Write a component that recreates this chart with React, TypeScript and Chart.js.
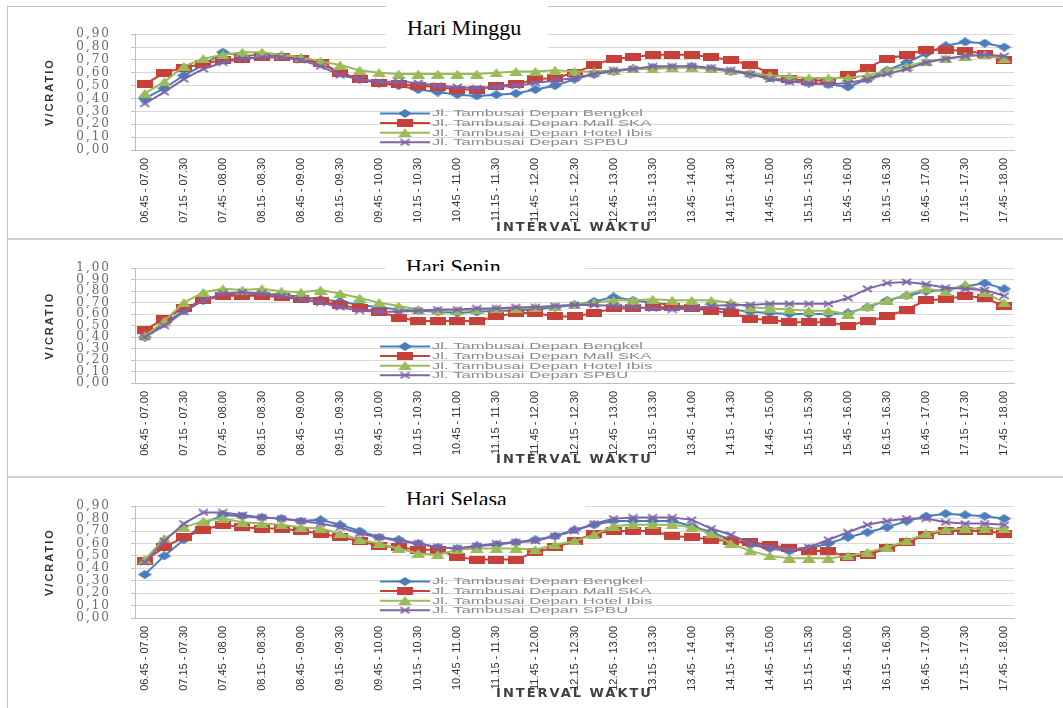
import { useEffect, useRef } from 'react';
import { Chart, registerables } from 'chart.js';

Chart.register(...registerables);

const categories = [
  '06.45 - 07.00', '07.00 - 07.15', '07.15 - 07.30', '07.30 - 07.45', '07.45 - 08.00',
  '08.00 - 08.15', '08.15 - 08.30', '08.30 - 08.45', '08.45 - 09.00', '09.00 - 09.15',
  '09.15 - 09.30', '09.30 - 09.45', '09.45 - 10.00', '10.00 - 10.15', '10.15 - 10.30',
  '10.30 - 10.45', '10.45 - 11.00', '11.00 - 11.15', '11.15 - 11.30', '11.30 - 11.45',
  '11.45 - 12.00', '12.00 - 12.15', '12.15 - 12.30', '12.30 - 12.45', '12.45 - 13.00',
  '13.00 - 13.15', '13.15 - 13.30', '13.30 - 13.45', '13.45 - 14.00', '14.00 - 14.15',
  '14.15 - 14.30', '14.30 - 14.45', '14.45 - 15.00', '15.00 - 15.15', '15.15 - 15.30',
  '15.30 - 15.45', '15.45 - 16.00', '16.00 - 16.15', '16.15 - 16.30', '16.30 - 16.45',
  '16.45 - 17.00', '17.00 - 17.15', '17.15 - 17.30', '17.30 - 17.45', '17.45 - 18.00',
];

const seriesNames = [
  'Jl. Tambusai Depan Bengkel',
  'Jl. Tambusai Depan Mall SKA',
  'Jl. Tambusai Depan Hotel Ibis',
  'Jl. Tambusai Depan SPBU',
];

// Hari Minggu
const mingguBengkel = [0.40,0.48,0.58,0.66,0.76,0.73,0.74,0.73,0.71,0.67,0.60,0.55,0.52,0.50,0.47,0.45,0.43,0.42,0.43,0.44,0.47,0.50,0.55,0.59,0.61,0.63,0.64,0.64,0.65,0.63,0.61,0.59,0.56,0.54,0.52,0.51,0.49,0.55,0.62,0.68,0.75,0.81,0.84,0.83,0.80];
const mingguMallSka = [0.51,0.60,0.64,0.67,0.70,0.71,0.72,0.72,0.71,0.68,0.60,0.55,0.52,0.51,0.50,0.49,0.47,0.47,0.50,0.51,0.55,0.56,0.60,0.66,0.71,0.72,0.74,0.74,0.74,0.72,0.70,0.66,0.60,0.55,0.54,0.54,0.58,0.64,0.71,0.74,0.78,0.78,0.77,0.75,0.70];
const mingguHotelIbis = [0.44,0.53,0.65,0.71,0.74,0.76,0.76,0.74,0.72,0.69,0.66,0.62,0.60,0.59,0.59,0.59,0.59,0.59,0.60,0.61,0.61,0.62,0.61,0.61,0.62,0.63,0.63,0.64,0.64,0.63,0.62,0.60,0.58,0.57,0.56,0.56,0.56,0.58,0.62,0.65,0.69,0.71,0.73,0.74,0.71];
const mingguSpbu = [0.36,0.45,0.55,0.63,0.68,0.71,0.72,0.72,0.70,0.65,0.58,0.55,0.53,0.53,0.52,0.50,0.49,0.48,0.49,0.50,0.52,0.54,0.56,0.59,0.62,0.63,0.65,0.65,0.65,0.64,0.62,0.59,0.55,0.53,0.52,0.51,0.52,0.55,0.59,0.63,0.68,0.71,0.73,0.74,0.73];

// Hari Senin
const seninBengkel = [0.40,0.52,0.63,0.72,0.77,0.78,0.77,0.77,0.75,0.73,0.71,0.68,0.66,0.64,0.63,0.62,0.61,0.62,0.63,0.63,0.64,0.66,0.68,0.71,0.75,0.72,0.70,0.68,0.66,0.65,0.64,0.62,0.61,0.60,0.60,0.60,0.61,0.66,0.72,0.76,0.80,0.81,0.84,0.87,0.82];
const seninMallSka = [0.46,0.56,0.65,0.72,0.76,0.76,0.76,0.75,0.73,0.71,0.68,0.65,0.62,0.57,0.54,0.54,0.54,0.54,0.58,0.61,0.61,0.58,0.58,0.61,0.65,0.65,0.66,0.66,0.65,0.63,0.61,0.56,0.55,0.53,0.53,0.53,0.50,0.54,0.58,0.64,0.72,0.73,0.76,0.74,0.67];
const seninHotelIbis = [0.41,0.54,0.70,0.79,0.82,0.81,0.82,0.80,0.79,0.81,0.78,0.74,0.70,0.67,0.64,0.63,0.63,0.64,0.65,0.65,0.66,0.67,0.68,0.70,0.72,0.72,0.73,0.72,0.72,0.72,0.70,0.66,0.65,0.64,0.63,0.63,0.60,0.67,0.72,0.77,0.82,0.80,0.86,0.79,0.70];
const seninSpbu = [0.40,0.50,0.62,0.72,0.78,0.79,0.78,0.76,0.73,0.70,0.66,0.63,0.62,0.62,0.63,0.64,0.64,0.65,0.65,0.66,0.66,0.67,0.68,0.68,0.67,0.66,0.65,0.64,0.65,0.67,0.68,0.68,0.69,0.69,0.69,0.69,0.74,0.82,0.87,0.88,0.86,0.83,0.82,0.81,0.76];

// Hari Selasa
const selasaBengkel = [0.35,0.50,0.63,0.76,0.83,0.82,0.81,0.80,0.78,0.79,0.75,0.70,0.65,0.63,0.60,0.57,0.56,0.58,0.59,0.61,0.63,0.66,0.71,0.75,0.78,0.78,0.78,0.78,0.74,0.69,0.63,0.59,0.56,0.54,0.56,0.60,0.65,0.69,0.73,0.78,0.82,0.84,0.83,0.82,0.80];
const selasaMallSka = [0.46,0.57,0.65,0.71,0.75,0.73,0.72,0.72,0.70,0.68,0.65,0.62,0.58,0.57,0.55,0.55,0.49,0.47,0.47,0.47,0.53,0.57,0.62,0.68,0.70,0.70,0.70,0.66,0.65,0.63,0.62,0.61,0.59,0.56,0.54,0.54,0.49,0.51,0.56,0.61,0.67,0.70,0.70,0.70,0.68];
const selasaHotelIbis = [0.47,0.64,0.73,0.78,0.80,0.77,0.76,0.75,0.73,0.72,0.68,0.63,0.60,0.56,0.52,0.51,0.55,0.56,0.56,0.56,0.55,0.59,0.62,0.67,0.74,0.75,0.75,0.75,0.73,0.68,0.60,0.54,0.50,0.48,0.48,0.48,0.50,0.53,0.57,0.62,0.68,0.71,0.72,0.72,0.72];
const selasaSpbu = [0.45,0.62,0.76,0.85,0.85,0.83,0.81,0.80,0.78,0.76,0.73,0.68,0.65,0.62,0.60,0.57,0.56,0.58,0.60,0.61,0.62,0.66,0.70,0.76,0.80,0.81,0.81,0.81,0.79,0.72,0.67,0.60,0.57,0.55,0.57,0.63,0.69,0.75,0.78,0.80,0.80,0.77,0.76,0.76,0.75];

const panelTitles = ['Hari Minggu', 'Hari Senin', 'Hari Selasa'];
const panelYMax = [0.9, 1.0, 0.9];
const panelSeries = [
  [mingguBengkel, mingguMallSka, mingguHotelIbis, mingguSpbu],
  [seninBengkel, seninMallSka, seninHotelIbis, seninSpbu],
  [selasaBengkel, selasaMallSka, selasaHotelIbis, selasaSpbu],
];

const COLORS = ['#4A7EBB', '#C8403A', '#9BBB59', '#7E65A8'];
const MARKERS = ['diamond', 'rect', 'triangle', 'cross'];

// layout of each panel (page pixels)
const LAYOUT = [
  { canvasTop: 7, canvasHeight: 231, padTop: 12, xHeight: 88, xTitlePad: 2.2, box: { left: 386, top: 5, width: 162, height: 45 }, clip: 45, textTop: 12.4 },
  { canvasTop: 241, canvasHeight: 235, padTop: 10, xHeight: 93, xTitlePad: 8.2, box: { left: 385, top: 247, width: 200, height: 31 }, clip: 24, textTop: 8.5 },
  { canvasTop: 479, canvasHeight: 229, padTop: 11, xHeight: 90, xTitlePad: 6.2, box: { left: 385, top: 478, width: 200, height: 36 }, clip: 27, textTop: 9.8 },
];

function makeMarker(kind: string, color: string): HTMLCanvasElement {
  const c = document.createElement('canvas');
  const w = kind === 'rect' ? 16 : kind === 'cross' ? 11 : 14;
  const h = kind === 'rect' ? 8 : kind === 'cross' ? 8 : 9;
  c.width = w;
  c.height = h;
  const g = c.getContext('2d')!;
  g.fillStyle = color;
  g.strokeStyle = color;
  g.beginPath();
  if (kind === 'diamond') {
    g.moveTo(w / 2, 0); g.lineTo(w, h / 2); g.lineTo(w / 2, h); g.lineTo(0, h / 2); g.closePath(); g.fill();
  } else if (kind === 'rect') {
    g.fillRect(0, 0, w, h);
  } else if (kind === 'triangle') {
    g.moveTo(w / 2, 0); g.lineTo(w, h); g.lineTo(0, h); g.closePath(); g.fill();
  } else {
    g.lineWidth = 1.8;
    g.moveTo(1, 1); g.lineTo(w - 1, h - 1); g.moveTo(w - 1, 1); g.lineTo(1, h - 1); g.stroke();
  }
  return c;
}

const spacingPlugin = {
  id: 'textSpacing',
  beforeDraw(chart: any) { chart.ctx.letterSpacing = '2px'; },
  beforeDatasetsDraw(chart: any) { chart.ctx.letterSpacing = '0px'; },
  afterDraw(chart: any) { chart.ctx.letterSpacing = '0px'; },
};

function PanelChart({ index }: { index: number }) {
  const ref = useRef<HTMLCanvasElement>(null);
  const lay = LAYOUT[index];
  useEffect(() => {
    const markers = MARKERS.map((m, k) => makeMarker(m, COLORS[k]));
    const legendPlugin = {
      id: 'insideLegend',
      afterDraw(chart: any) {
        const { ctx, chartArea } = chart;
        ctx.save();
        ctx.letterSpacing = '0px';
        const x0 = chartArea.left + 245;
        seriesNames.forEach((name, k) => {
          const y = chartArea.bottom - 36.5 + 9.6 * k;
          ctx.strokeStyle = COLORS[k];
          ctx.lineWidth = 2;
          ctx.beginPath();
          ctx.moveTo(x0, y);
          ctx.lineTo(x0 + 50, y);
          ctx.stroke();
          const m = markers[k];
          ctx.drawImage(m, x0 + 25 - m.width / 2, y - m.height / 2);
          ctx.save();
          ctx.translate(x0 + 52, y);
          ctx.scale(1.85, 1);
          ctx.fillStyle = '#8a8a8a';
          ctx.font = '9px "Liberation Sans", Arial, sans-serif';
          ctx.textBaseline = 'middle';
          ctx.fillText(name, 0, 0.5);
          ctx.restore();
        });
        ctx.restore();
      },
    };
    const chart = new Chart(ref.current!, {
      type: 'line',
      data: {
        labels: categories,
        datasets: seriesNames.map((name, k) => ({
          label: name,
          data: panelSeries[index][k],
          borderColor: COLORS[k],
          backgroundColor: COLORS[k],
          borderWidth: 2,
          pointStyle: markers[k] as any,
          pointRadius: 4,
          tension: 0,
          fill: false,
          order: 4 - k,
        })),
      },
      options: {
        animation: false,
        responsive: false,
        maintainAspectRatio: false,
        layout: { padding: { top: lay.padTop, right: 49, bottom: 0, left: 0 } },
        plugins: { legend: { display: false }, tooltip: { enabled: false }, title: { display: false } },
        scales: {
          x: {
            type: 'category',
            offset: true,
            grid: { display: false, drawTicks: false },
            border: { display: true, color: '#bfbfbf' },
            ticks: {
              autoSkip: false,
              minRotation: 90,
              maxRotation: 90,
              padding: 8,
              color: '#333333',
              z: 1,
              font: { family: "'Liberation Sans Narrow', 'Arial Narrow', 'Liberation Sans', sans-serif", size: 11 },
              callback: (_v: any, i: number) => (i % 2 === 0 ? categories[i] : ''),
            },
            title: {
              display: true,
              text: 'INTERVAL WAKTU',
              color: '#404040',
              font: { family: "'DejaVu Sans', sans-serif", weight: 'bold', size: 13 },
              padding: { top: 0, bottom: lay.xTitlePad },
            },
            afterFit: (s: any) => { s.height = lay.xHeight; },
          } as any,
          y: {
            min: 0,
            max: panelYMax[index],
            ticks: {
              stepSize: 0.1,
              autoSkip: false,
              padding: 20,
              color: '#6b6b6b',
              font: { family: "'DejaVu Serif', serif", size: 12 },
              callback: (v: any) => Number(v).toFixed(2).replace('.', ','),
            },
            grid: { color: '#d9d9d9', tickLength: 4, tickColor: '#bfbfbf' },
            border: { color: '#bfbfbf' },
            title: {
              display: true,
              text: 'V/CRATIO',
              color: '#333333',
              font: { family: "'Liberation Sans Narrow', 'Arial Narrow', 'Liberation Sans', sans-serif", weight: 'bold', size: 11 },
              padding: { top: 35, bottom: 0 },
            },
            afterFit: (s: any) => { s.width = 127; },
          } as any,
        },
      },
      plugins: [spacingPlugin, legendPlugin],
    });
    return () => chart.destroy();
  }, [index]);
  return (
    <canvas
      ref={ref}
      width={1055}
      height={lay.canvasHeight}
      style={{ position: 'absolute', left: 8, top: lay.canvasTop, width: 1055, height: lay.canvasHeight, display: 'block' }}
    />
  );
}

function TitleBox({ index }: { index: number }) {
  const lay = LAYOUT[index];
  return (
    <div style={{ position: 'absolute', left: lay.box.left, top: lay.box.top, width: lay.box.width, height: lay.box.height, background: '#ffffff' }}>
      <div style={{ position: 'absolute', left: 0, top: 0, width: lay.box.width, height: lay.clip, overflow: 'hidden' }}>
        <span style={{ position: 'absolute', left: 21, top: lay.textTop, fontFamily: "'Liberation Serif', 'Times New Roman', serif", fontSize: 22, lineHeight: '22px', color: '#000', whiteSpace: 'nowrap' }}>
          {panelTitles[index]}
        </span>
      </div>
    </div>
  );
}

export default function App() {
  const line = '#c4c4c4';
  return (
    <div style={{ position: 'absolute', left: 0, top: 0, width: 1063, height: 708, background: '#ffffff', overflow: 'hidden' }}>
      <div style={{ position: 'absolute', left: 7, top: 6, width: 1056, height: 1, background: line }} />
      <div style={{ position: 'absolute', left: 7, top: 6, width: 1, height: 702, background: line }} />
      <div style={{ position: 'absolute', left: 7, top: 238, width: 1056, height: 2, background: '#d2d2d2' }} />
      <div style={{ position: 'absolute', left: 7, top: 476, width: 1056, height: 2, background: '#d2d2d2' }} />
      {[0, 1, 2].map((i) => (
        <PanelChart key={'c' + i} index={i} />
      ))}
      {[0, 1, 2].map((i) => (
        <TitleBox key={'t' + i} index={i} />
      ))}
    </div>
  );
}
